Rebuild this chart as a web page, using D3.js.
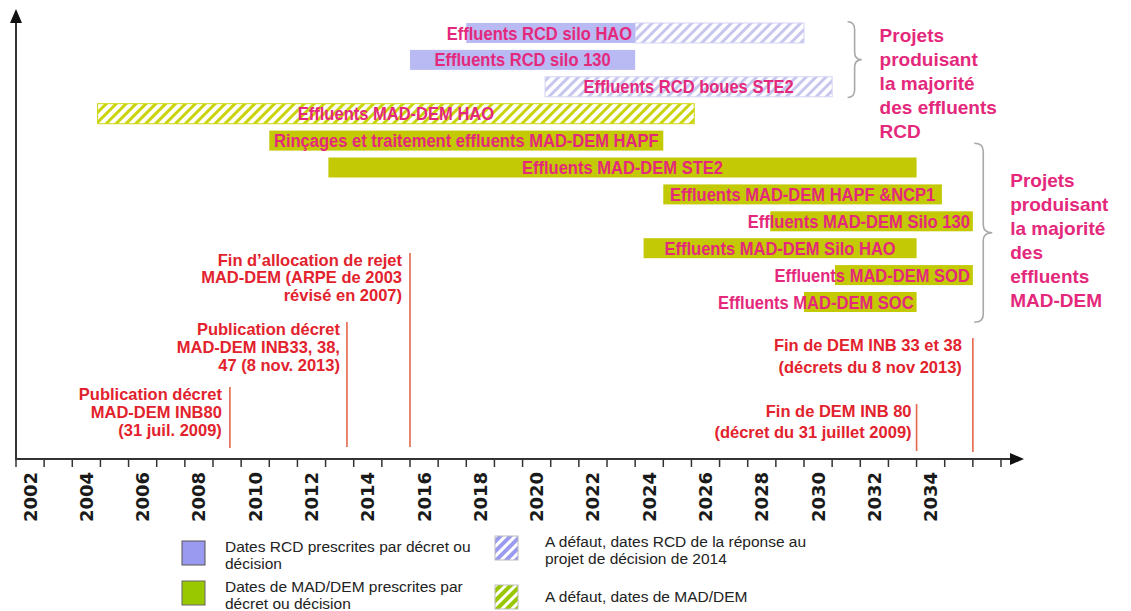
<!DOCTYPE html>
<html>
<head>
<meta charset="utf-8">
<script src="https://cdn.jsdelivr.net/npm/d3@7"></script>
<style>
  body { margin: 0; background: #fff; }
  svg { display: block; }
</style>
</head>
<body>
<svg id="chart" width="1131" height="611"></svg>
<script>

// ---- data ----

// tick marks sit on the 1st of January of each year, labels every two years
const tickYears = d3.range(2002, 2038);
const labelYears = d3.range(2002, 2035, 2);

// projects producing most of the RCD effluents (decree = prescribed dates, fallback = hatched dates)
const rcdProjects = [
    {name: "Effluents RCD silo HAO", decree: [2018.0, 2024.0], fallback: [2024.0, 2030.0]},
    {name: "Effluents RCD silo 130", decree: [2016.0, 2024.0], fallback: null},
    {name: "Effluents RCD boues STE2", decree: null, fallback: [2020.8, 2031.0]}
];

// projects producing most of the MAD-DEM effluents
const madDemProjects = [
    {name: "Effluents MAD-DEM HAO", decree: null, fallback: [2004.9, 2026.1]},
    {name: "Rinçages et traitement effluents MAD-DEM HAPF", decree: [2011.0, 2025.0], fallback: null},
    {name: "Effluents MAD-DEM STE2", decree: [2013.1, 2034.0], fallback: null},
    {name: "Effluents MAD-DEM HAPF &NCP1", decree: [2025.0, 2034.9], fallback: null},
    {name: "Effluents MAD-DEM Silo 130", decree: [2028.8, 2036.0], fallback: null},
    {name: "Effluents MAD-DEM Silo HAO", decree: [2024.3, 2034.0], fallback: null},
    {name: "Effluents MAD-DEM SOD", decree: [2031.1, 2036.0], fallback: null},
    {name: "Effluents MAD-DEM SOC", decree: [2030.0, 2034.0], fallback: null}
];

// labels that are pushed against the right end of their bar
const endAlignedLabels = ["Effluents RCD silo HAO", "Effluents MAD-DEM Silo 130",
                          "Effluents MAD-DEM SOD", "Effluents MAD-DEM SOC"];

// vertical milestone lines
const milestones = [
    {date: 2009.6, lines: ["Publication décret", "MAD-DEM INB80", "(31 juil. 2009)"]},
    {date: 2013.76, lines: ["Publication décret", "MAD-DEM INB33, 38,", "47 (8 nov. 2013)"]},
    {date: 2016.0, lines: ["Fin d’allocation de rejet", "MAD-DEM (ARPE de 2003", "révisé en 2007)"]},
    {date: 2034.0, lines: ["Fin de DEM INB 80", "(décret du 31 juillet 2009)"]},
    {date: 2036.0, lines: ["Fin de DEM INB 33 et 38", "(décrets du 8 nov 2013)"]}
];

const groupTexts = [
    ["Projets", "produisant", "la majorité", "des effluents", "RCD"],
    ["Projets", "produisant", "la majorité", "des", "effluents", "MAD-DEM"]
];

const legendItems = [
    {kind: "rcd", hatched: false, lines: ["Dates RCD prescrites par décret ou", "décision"]},
    {kind: "mad", hatched: false, lines: ["Dates de MAD/DEM prescrites par", "décret ou décision"]},
    {kind: "rcd", hatched: true, lines: ["A défaut, dates RCD de la réponse au", "projet de décision de 2014"]},
    {kind: "mad", hatched: true, lines: ["A défaut, dates de MAD/DEM"]}
];

// ---- drawing ----

const svg = d3.select("#chart");
const axisY = 459;
const pink = "#e4287c";
const red = "#e2222d";

const colors = {
    rcd: {solid: "#b9b9f3", stripe: "#c6c6ef", edge: "#d4d4f3", legend: "#9a9af0", legendEdge: "#555"},
    mad: {solid: "#c3c905", stripe: "#cad40c", edge: "#cdd60e", legend: "#99c800", legendEdge: "#666"}
};

const x = d3.scaleLinear().domain([2002, 2037]).range([16, 1001]);
const rowY = d3.scaleLinear().domain([0, 10]).range([33, 302]);
const barH = 20;

// hatch patterns
let defs = svg.append("defs");
function hatch(id, bg, stripe) {
    let p = defs.append("pattern")
        .attr("id", id)
        .attr("patternUnits", "userSpaceOnUse")
        .attr("width", 7).attr("height", 7)
        .attr("patternTransform", "rotate(45)");
    p.append("rect").attr("width", 7).attr("height", 7).attr("fill", bg);
    p.append("rect").attr("width", 3).attr("height", 7).attr("fill", stripe);
}
hatch("hatch-rcd", "#fff", colors.rcd.stripe);
hatch("hatch-mad", "#fff", colors.mad.stripe);
hatch("legend-rcd", colors.rcd.legend, "#fff");
hatch("legend-mad", colors.mad.legend, "#fff");

// bars
let projects = rcdProjects.map((d, i) => Object.assign({kind: "rcd", row: i}, d))
    .concat(madDemProjects.map((d, i) => Object.assign({kind: "mad", row: i + rcdProjects.length}, d)));

let barsG = svg.append("g");
projects.forEach(p => {
    let y0 = rowY(p.row) - barH / 2;
    let c = colors[p.kind];
    if (p.fallback) {
        barsG.append("rect")
            .attr("x", x(p.fallback[0]))
            .attr("y", y0)
            .attr("width", x(p.fallback[1]) - x(p.fallback[0]))
            .attr("height", barH)
            .attr("fill", "url(#hatch-" + p.kind + ")")
            .attr("stroke", c.edge)
            .attr("stroke-width", 1);
    }
    if (p.decree) {
        barsG.append("rect")
            .attr("x", x(p.decree[0]))
            .attr("y", y0)
            .attr("width", x(p.decree[1]) - x(p.decree[0]))
            .attr("height", barH)
            .attr("fill", c.solid);
    }
});

// bar labels (narrow bold face, squeezed horizontally)
projects.forEach(p => {
    let segs = [p.decree, p.fallback].filter(s => s);
    let start = d3.min(segs, s => s[0]);
    let end = d3.max(segs, s => s[1]);
    let tx, anchor;
    if (endAlignedLabels.includes(p.name)) {
        tx = x(p.decree ? p.decree[1] : end) - 3;
        anchor = "end";
    } else {
        tx = (x(start) + x(end)) / 2;
        anchor = "middle";
    }
    barsG.append("g")
        .attr("transform", "translate(" + tx + "," + (rowY(p.row) + 6.5) + ") scale(0.87,1)")
        .append("text")
        .attr("text-anchor", anchor)
        .attr("font-family", "'Liberation Sans', Arial, sans-serif")
        .attr("font-weight", "bold")
        .attr("font-size", 19)
        .attr("fill", pink)
        .text(p.name);
});

// braces and group texts
const braceLayout = [
    {from: -0.42, to: 2.4, year: 2031.55, width: 14, textDy: 20},
    {from: 4.1, to: 10.75, year: 2036.05, width: 18, textDy: 44}
];
function bracePath(x0, w, top, bottom) {
    let mid = (top + bottom) / 2;
    let xm = x0 + w * 0.5;
    let r = 8;
    return "M" + x0 + "," + top +
        " Q" + xm + "," + top + " " + xm + "," + (top + r) +
        " L" + xm + "," + (mid - r) +
        " Q" + xm + "," + mid + " " + (x0 + w) + "," + mid +
        " Q" + xm + "," + mid + " " + xm + "," + (mid + r) +
        " L" + xm + "," + (bottom - r) +
        " Q" + xm + "," + bottom + " " + x0 + "," + bottom;
}
braceLayout.forEach((b, i) => {
    let top = rowY(b.from), bottom = rowY(b.to);
    svg.append("path")
        .attr("d", bracePath(x(b.year), b.width, top, bottom))
        .attr("fill", "none")
        .attr("stroke", "#a8a8a8")
        .attr("stroke-width", 1.6);
    let t = svg.append("text")
        .attr("font-family", "'Liberation Sans', Arial, sans-serif")
        .attr("font-weight", "bold")
        .attr("font-size", 19)
        .attr("fill", pink);
    t.selectAll("tspan").data(groupTexts[i]).enter().append("tspan")
        .attr("x", x(b.year) + b.width + 18)
        .attr("y", (d, k) => top + b.textDy + k * 24)
        .text(d => d);
});

// milestones
const milestoneLayout = [
    {top: 387, bottom: 448, gap: 8, lead: 18},
    {top: 322, bottom: 447, gap: 7, lead: 18},
    {top: 253, bottom: 447, gap: 8, lead: 17.5},
    {top: 404, bottom: 451, gap: 5, lead: 21.5},
    {top: 338, bottom: 452, gap: 11, lead: 22.5}
];
milestones.forEach((m, i) => {
    let L = milestoneLayout[i];
    let mx = x(m.date);
    svg.append("line")
        .attr("x1", mx).attr("x2", mx)
        .attr("y1", L.top).attr("y2", L.bottom)
        .attr("stroke", "#e5674a")
        .attr("stroke-width", 1.6);
    let t = svg.append("text")
        .attr("text-anchor", "end")
        .attr("font-family", "'Liberation Sans', Arial, sans-serif")
        .attr("font-weight", "bold")
        .attr("font-size", 16.5)
        .attr("fill", red);
    t.selectAll("tspan").data(m.lines).enter().append("tspan")
        .attr("x", mx - L.gap)
        .attr("y", (d, k) => L.top + 12.5 + k * L.lead)
        .text(d => d);
});

// axes
let axisG = svg.append("g");
axisG.append("line")
    .attr("x1", 15).attr("x2", 1012)
    .attr("y1", axisY).attr("y2", axisY)
    .attr("stroke", "#333").attr("stroke-width", 2);
axisG.append("path")
    .attr("d", "M1010," + (axisY - 6) + " L1024," + axisY + " L1010," + (axisY + 6) + " Z")
    .attr("fill", "#111");
axisG.append("line")
    .attr("x1", x(2002)).attr("x2", x(2002))
    .attr("y1", axisY).attr("y2", 20)
    .attr("stroke", "#333").attr("stroke-width", 2);
axisG.append("path")
    .attr("d", "M" + (x(2002) - 6) + ",23 L" + x(2002) + ",9 L" + (x(2002) + 6) + ",23 Z")
    .attr("fill", "#111");

axisG.selectAll(".tick")
    .data(tickYears).enter().append("line")
    .attr("class", "tick")
    .attr("x1", d => x(d)).attr("x2", d => x(d))
    .attr("y1", axisY).attr("y2", axisY + 8)
    .attr("stroke", "#333").attr("stroke-width", 1.5);

axisG.selectAll(".ylabel")
    .data(labelYears).enter().append("text")
    .attr("class", "ylabel")
    .attr("transform", d => "translate(" + x(d + 0.5) + "," + (axisY + 13) + ") rotate(-90)")
    .attr("dy", "0.36em")
    .attr("text-anchor", "end")
    .attr("font-family", "'DejaVu Sans', sans-serif")
    .attr("font-weight", "bold")
    .attr("font-size", 18)
    .attr("fill", "#1a1a1a")
    .text(d => d);

// legend
const legendPos = [
    {x: 182, y: 541}, {x: 182, y: 581}, {x: 495, y: 536}, {x: 495, y: 585}
];
legendItems.forEach((item, i) => {
    let p = legendPos[i];
    let c = colors[item.kind];
    svg.append("rect")
        .attr("x", p.x).attr("y", p.y)
        .attr("width", 23).attr("height", 24)
        .attr("fill", item.hatched ? "url(#legend-" + item.kind + ")" : c.legend)
        .attr("stroke", item.hatched ? "#bbb" : c.legendEdge)
        .attr("stroke-width", 1);
    let t = svg.append("text")
        .attr("font-family", "'Liberation Sans', Arial, sans-serif")
        .attr("font-size", 15.5)
        .attr("fill", "#222");
    let firstY = item.lines.length > 1 ? p.y + 11 : p.y + 17;
    t.selectAll("tspan").data(item.lines).enter().append("tspan")
        .attr("x", p.x + (item.hatched ? 50 : 43))
        .attr("y", (d, k) => firstY + k * 17)
        .text(d => d);
});

</script>
</body>
</html>
